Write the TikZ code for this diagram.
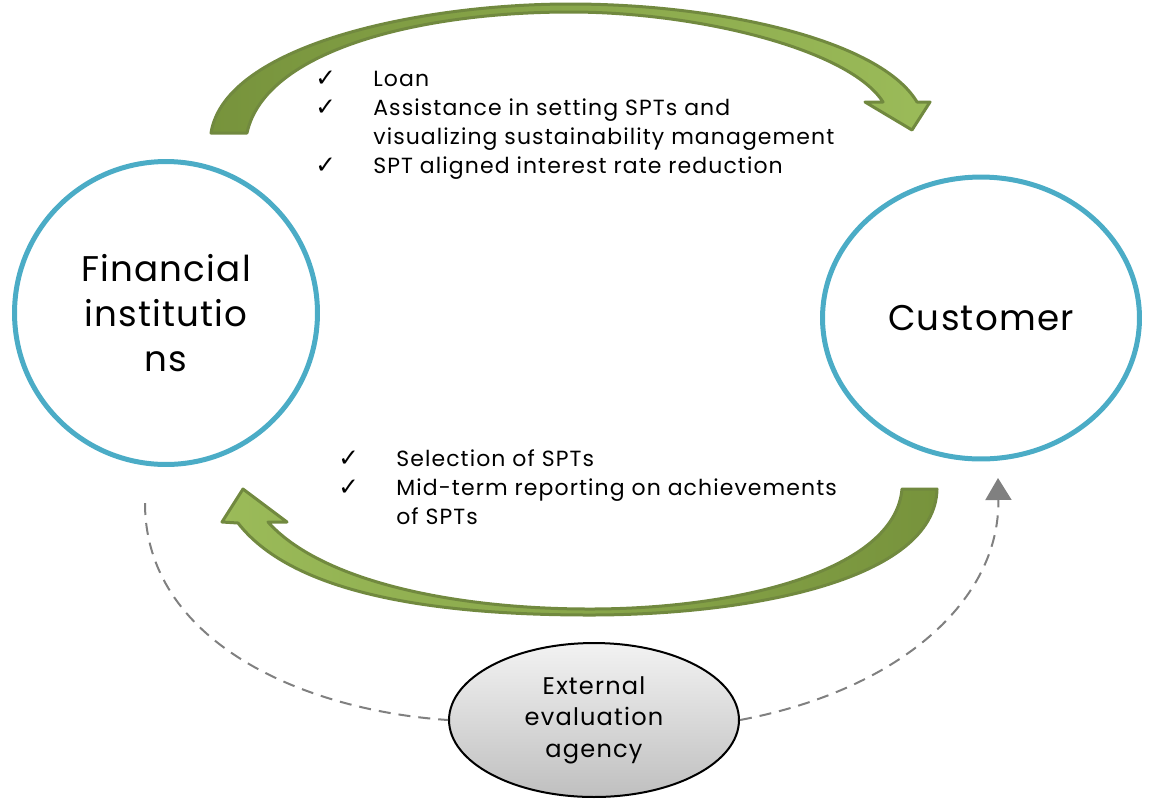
\documentclass[tikz,border=0pt]{standalone}
\usepackage{fontspec}
\setmainfont{Poppins}
\newfontfamily\checkfont{DejaVu Sans}
\newfontfamily\bigfont{Poppins}[LetterSpace=3.5]
\newfontfamily\listfont{Poppins}[LetterSpace=5]
\newfontfamily\agencyfont{Poppins}[LetterSpace=5]
\usetikzlibrary{shapes.geometric,arrows.meta}
\definecolor{ringblue}{HTML}{4BACC6}
\definecolor{bandline}{HTML}{71893F}
\definecolor{banddark}{HTML}{77933C}
\definecolor{bandlight}{HTML}{9BBB59}
\definecolor{dashgray}{HTML}{808080}
\newcommand{\chk}{{\checkfont\fontsize{14}{14}\selectfont\char"2713}}

\begin{document}
\begin{tikzpicture}[x=0.02cm, y=-0.02cm,
    party/.style={draw=ringblue, line width=0.1cm, align=center,
      font=\bigfont\fontsize{20.3}{25.6}\selectfont},
    bigarrow/.style={draw=bandline, line width=0.06cm, line join=round},
    listtext/.style={anchor=base west, inner sep=0pt,
      font=\listfont\fontsize{12.5}{16.6}\selectfont},
    dashlink/.style={draw=dashgray, line width=0.04cm,
      dash pattern=on 0.24cm off 0.16cm}]
        \useasboundingbox (0,0) rectangle (1149,799);%

        % Circle of the financial institutions
        \node (fin) [party, circle, minimum size=6.06cm] at (166,313)
          {Financial\\institutio\\ns};%

        % Ellipse of the customer
        \node (cust) [party, ellipse, minimum width=6.34cm, minimum height=5.64cm]
          at (981,318) {Customer};%

        % Ellipse of the evaluation agency
        \node (agency) [ellipse, draw=black, line width=0.04cm,
          top color=black!5, bottom color=black!25,
          minimum width=5.8cm, minimum height=3.08cm, align=center,
          font=\agencyfont\fontsize{13.7}{17.9}\selectfont] at (594,720)
          {External\\evaluation\\agency};%

        % Drawing upper arrow (institutions to customer)
        \path [bigarrow, left color=banddark, right color=bandlight]
          (211,133) .. controls (225,45) and (420,4) .. (570,4)
          .. controls (720,4) and (880,40) .. (917,102)
          -- (930,102) -- (912,130) -- (865,102) -- (883,102)
          .. controls (850,50) and (700,12) .. (570,12)
          .. controls (420,12) and (265,50) .. (247,133) -- cycle;%

        % Drawing lower arrow (customer to institutions)
        \path [bigarrow, left color=bandlight, right color=banddark]
          (937,489) .. controls (935,580) and (750,615) .. (590,615)
          .. controls (420,615) and (290,590) .. (238,523)
          -- (222,522) -- (243,489) -- (287,522) -- (268,522)
          .. controls (320,580) and (450,609) .. (590,609)
          .. controls (740,609) and (895,570) .. (902,489) -- cycle;%

        % Items given by the institutions
        \node (gives) [listtext] at (315,86)
          {\begin{tabular}[t]{@{}p{1.16cm}@{}l@{}}
            \chk & Loan\\
            \chk & Assistance in setting SPTs and\\
                 & visualizing sustainability management\\
            \chk & SPT aligned interest rate reduction
          \end{tabular}};%

        % Items returned by the customer
        \node (returns) [listtext] at (338,466)
          {\begin{tabular}[t]{@{}p{1.16cm}@{}l@{}}
            \chk & Selection of SPTs\\
            \chk & Mid-term reporting on achievements\\
                 & of SPTs
          \end{tabular}};%

        % Dashed links through the agency
        \coordinate (finfoot) at (145,503);%
        \coordinate (custfoot) at (998,478);%
        \draw [dashlink] (finfoot) .. controls (145,640) and (300,710) .. (agency.west);%
        \draw [dashlink, -{Triangle[length=0.44cm, width=0.52cm]}]
          (agency.east) .. controls (900,690) and (1000,600) .. (custfoot);%
    \end{tikzpicture}
\end{document}
